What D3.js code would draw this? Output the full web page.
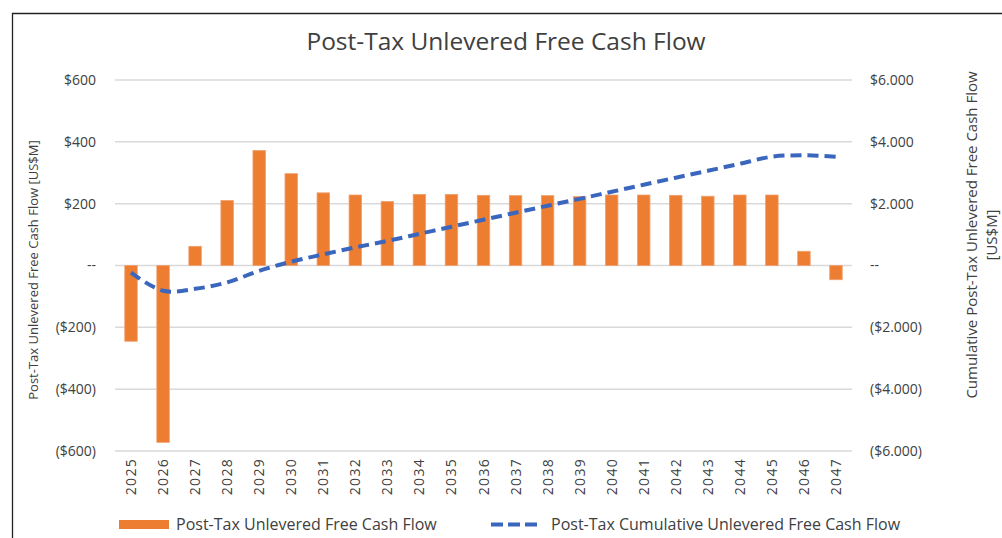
<!DOCTYPE html>
<html><head><meta charset="utf-8">
<script src="https://cdn.jsdelivr.net/npm/d3@7"></script>
<style>
html,body{margin:0;padding:0;background:#fff;}
svg{display:block;font-family:"Open Sans","Noto Sans",sans-serif;}
</style></head>
<body>
<svg id="c" width="1002" height="538"></svg>
<script>
const years = ["2025","2026","2027","2028","2029","2030","2031","2032","2033","2034","2035","2036","2037","2038","2039","2040","2041","2042","2043","2044","2045","2046","2047"];
const annualFCF = [-245,-572,62,210,372,297,235,228,207,230,230,227,226,226,223,228,228,227,224,228,228,46,-46];
const cumulativeFCF = [-230,-817,-755,-545,-173,124,359,587,794,1024,1254,1481,1707,1933,2156,2384,2612,2839,3063,3291,3519,3565,3519];
const leftTicks = [-600,-400,-200,0,200,400,600];
const rightTicks = [-6000,-4000,-2000,0,2000,4000,6000];
const title = "Post-Tax Unlevered Free Cash Flow";
const leftTitle = "Post-Tax Unlevered Free Cash Flow [US$M]";
const rightTitle = ["Cumulative Post-Tax Unlevered Free Cash Flow","[US$M]"];
const legendLabels = ["Post-Tax Unlevered Free Cash Flow","Post-Tax Cumulative Unlevered Free Cash Flow"];

const svg = d3.select("#c");
const L = 115, R = 852, T = 80, B = 451;
const x = d3.scaleBand().domain(years).range([L, R]).paddingInner(0.61).paddingOuter(0.305);
const y = d3.scaleLinear().domain([-600, 600]).range([B, T]);
const y2 = d3.scaleLinear().domain([-6000, 6000]).range([B, T]);

// frame
svg.append("path").attr("d", `M12.5,538 V13.5 H1002`).attr("fill","none").attr("stroke","#222").attr("stroke-width",1.3);

// title
svg.append("text").attr("x", 506).attr("y", 50).attr("text-anchor","middle")
  .attr("font-size", 24.5).attr("fill","#404040").text(title);

// gridlines
svg.append("g").selectAll("line").data(leftTicks).join("line")
  .attr("x1", L).attr("x2", R).attr("y1", d => y(d)).attr("y2", d => y(d))
  .attr("stroke","#d9d9d9").attr("stroke-width",1.5);

const fmtL = d => d === 0 ? "--" : d < 0 ? `($${-d})` : `$${d}`;
const fmtR = d => {
  if (d === 0) return "--";
  const s = d3.format(",")(Math.abs(d)).replace(/,/g, ".");
  return d < 0 ? `($${s})` : `$${s}`;
};

// left axis
const la = svg.append("g").attr("transform", `translate(${L},0)`)
  .call(d3.axisLeft(y).tickValues(leftTicks).tickFormat(fmtL).tickSize(0).tickPadding(19));
la.select(".domain").remove();
la.selectAll("text").attr("font-size", 14).attr("fill","#404040").attr("font-family","Open Sans");

// right axis
const ra = svg.append("g").attr("transform", `translate(${R},0)`)
  .call(d3.axisRight(y2).tickValues(rightTicks).tickFormat(fmtR).tickSize(0).tickPadding(18));
ra.select(".domain").remove();
ra.selectAll("text").attr("font-size", 14).attr("fill","#404040").attr("font-family","Open Sans");

// bars
svg.append("g").selectAll("rect").data(years).join("rect")
  .attr("x", d => x(d)).attr("width", x.bandwidth())
  .attr("y", (d,i) => y(Math.max(0, annualFCF[i])))
  .attr("height", (d,i) => Math.abs(y(annualFCF[i]) - y(0)))
  .attr("fill","#ed7d31").attr("stroke","#f0a070").attr("stroke-width",0.8);

// cumulative line
const line = d3.line().x((d,i) => x(years[i]) + x.bandwidth()/2).y(d => y2(d)).curve(d3.curveCatmullRom.alpha(0.5));
svg.append("path").datum(cumulativeFCF).attr("d", line)
  .attr("fill","none").attr("stroke","#3a66bd").attr("stroke-width",4).attr("stroke-dasharray","11,6");

// x labels
svg.append("g").selectAll("text").data(years).join("text")
  .attr("transform", d => `translate(${x(d)+x.bandwidth()/2+5},${458}) rotate(-90)`)
  .attr("text-anchor","end").attr("font-size",14).attr("letter-spacing","1.3px")
  .attr("fill","#404040").text(d => d);

// axis titles
svg.append("text").attr("transform","translate(38,270) rotate(-90)").attr("text-anchor","middle")
  .attr("font-size",13).attr("fill","#404040").text(leftTitle);
const rt = svg.append("text").attr("transform","translate(977,235) rotate(-90)").attr("text-anchor","middle")
  .attr("font-size",15).attr("fill","#404040");
rt.selectAll("tspan").data(rightTitle).join("tspan").attr("x",0).attr("dy",(d,i)=> i ? 20 : 0).text(d=>d);

// legend
svg.append("rect").attr("x",119).attr("y",520).attr("width",50).attr("height",9).attr("fill","#ed7d31");
svg.append("text").attr("x",176).attr("y",530).attr("font-size",16).attr("fill","#404040")
  .text(legendLabels[0]);
svg.append("line").attr("x1",491).attr("x2",542).attr("y1",524.5).attr("y2",524.5)
  .attr("stroke","#3a66bd").attr("stroke-width",4).attr("stroke-dasharray","12,5");
svg.append("text").attr("x",551).attr("y",530).attr("font-size",16).attr("fill","#404040")
  .text(legendLabels[1]);
</script>
</body></html>
